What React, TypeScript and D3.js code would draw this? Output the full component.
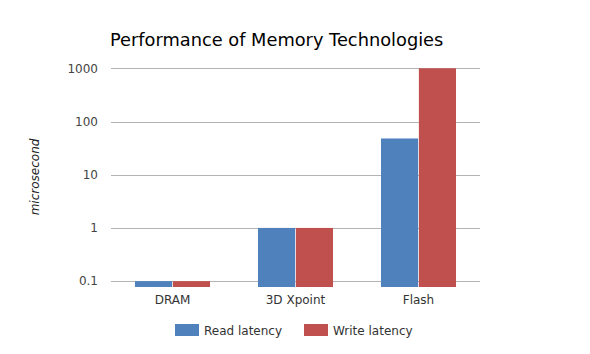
import React from "react";
import * as d3 from "d3";

const categories = ["DRAM", "3D Xpoint", "Flash"];
const seriesNames = ["Read latency", "Write latency"];
const readLatency = [0.1, 1, 48];
const writeLatency = [0.1, 1, 1000];
const tickValues = [0.1, 1, 10, 100, 1000];
const colors = ["#4F81BD", "#C0504D"];

export default function App() {
  const W = 590, H = 354;
  const left = 111, right = 480, top = 68.3, bottom = 287;
  const x = d3.scaleBand<string>().domain(categories).range([left, right]).paddingInner(0.39).paddingOuter(0.195);
  const y = d3.scaleLog().domain([0.0776, 1000]).range([bottom, top]);
  const sub = d3.scaleBand<number>().domain([0, 1]).range([0, x.bandwidth()]).paddingInner(0.02);
  const series = [readLatency, writeLatency];
  const font = "'DejaVu Sans', Verdana, sans-serif";
  return (
    <svg width={W} height={H} style={{ position: "absolute", left: 0, top: 0, background: "#fff" }} fontFamily={font}>
      <text x={110} y={46} fontSize={17.8} fill="#000">Performance of Memory Technologies</text>
      {tickValues.map((t) => (
        <g key={t}>
          <line x1={left} x2={right} y1={Math.round(y(t)) + 0.5} y2={Math.round(y(t)) + 0.5} stroke="#b3b3b3" strokeWidth={1} />
          <text x={98} y={y(t) + 4.3} textAnchor="end" fontSize={12} fill="#444">{String(t)}</text>
        </g>
      ))}
      {categories.map((c, i) => (
        <g key={c}>
          {series.map((s, j) => (
            <rect key={j} x={(x(c) as number) + (sub(j) as number)} width={sub.bandwidth()} y={y(s[i])} height={bottom - y(s[i])} fill={colors[j]} />
          ))}
          <text x={(x(c) as number) + x.bandwidth() / 2} y={304} textAnchor="middle" fontSize={12} fill="#333">{c}</text>
        </g>
      ))}
      <text transform={`translate(39,177) rotate(-90)`} textAnchor="middle" fontSize={12} fontStyle="italic" fill="#222">microsecond</text>
      {seriesNames.map((n, j) => (
        <g key={n}>
          <rect x={175 + j * 129} y={324} width={24} height={12} fill={colors[j]} />
          <text x={204 + j * 129} y={335} fontSize={12} fill="#333">{n}</text>
        </g>
      ))}
    </svg>
  );
}
